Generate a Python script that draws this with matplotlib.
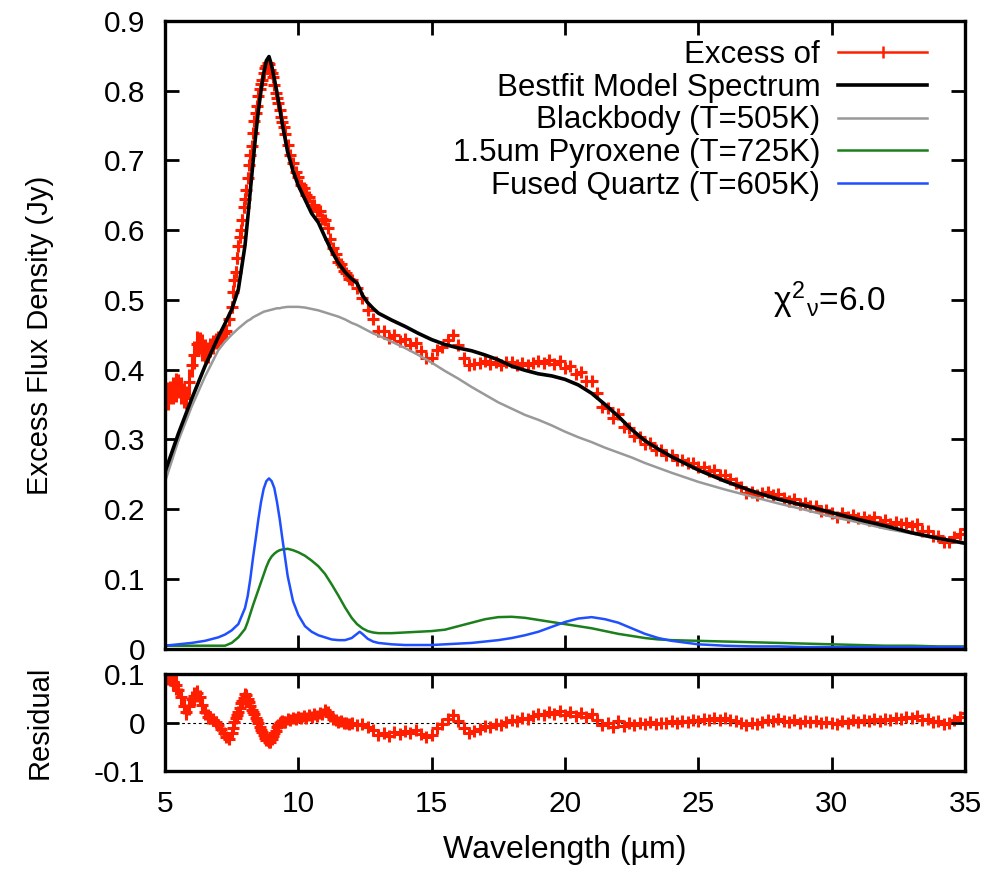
import numpy as np
import matplotlib.pyplot as plt
from matplotlib.lines import Line2D
from matplotlib.ticker import FuncFormatter

plt.rcParams['font.family'] = ['Liberation Sans', 'DejaVu Sans']
plt.rcParams['axes.unicode_minus'] = False
plt.rcParams['mathtext.fontset'] = 'custom'
plt.rcParams['mathtext.rm'] = 'Liberation Sans'
plt.rcParams['mathtext.it'] = 'Liberation Sans'

# observed excess spectrum (Jy) and fit residual, sampled wavelengths in um
wave = [5.0, 5.1, 5.2, 5.3, 5.4, 5.5, 5.6, 5.7, 5.8, 5.9,
        6.0, 6.1, 6.2, 6.3, 6.4, 6.5, 6.6, 6.7, 6.8, 6.9,
        7.0, 7.1, 7.2, 7.3, 7.4, 7.5,
        7.55, 7.6, 7.65, 7.7, 7.75, 7.8, 7.85, 7.9, 7.95, 8.0,
        8.05, 8.1, 8.15, 8.2, 8.25, 8.3, 8.35, 8.4, 8.45, 8.5,
        8.55, 8.6, 8.65, 8.7, 8.75, 8.8, 8.85, 8.9, 8.95, 9.0,
        9.05, 9.1, 9.15, 9.2, 9.25, 9.3, 9.35, 9.4, 9.45, 9.5,
        9.6, 9.7, 9.8, 9.9,
        10.0, 10.1, 10.2, 10.3, 10.4, 10.5, 10.6, 10.7, 10.8, 10.9,
        11.0, 11.1, 11.2, 11.3, 11.4, 11.5, 11.6, 11.7, 11.8, 11.9,
        12.0,
        12.2, 12.4, 12.6, 12.8, 13.0, 13.2, 13.4, 13.6, 13.8, 14.0,
        14.2, 14.4, 14.6, 14.8, 15.0, 15.2, 15.4, 15.6, 15.8, 16.0,
        16.2, 16.4, 16.6, 16.8, 17.0, 17.2, 17.4, 17.6, 17.8, 18.0,
        18.2, 18.4, 18.6, 18.8, 19.0, 19.2, 19.4, 19.6, 19.8, 20.0,
        20.2, 20.4, 20.6, 20.8, 21.0, 21.2, 21.4, 21.6, 21.8, 22.0,
        22.2, 22.4, 22.6, 22.8, 23.0, 23.2, 23.4, 23.6, 23.8, 24.0,
        24.2, 24.4, 24.6, 24.8, 25.0, 25.2, 25.4, 25.6, 25.8, 26.0,
        26.2, 26.4, 26.6, 26.8, 27.0, 27.2, 27.4, 27.6, 27.8, 28.0,
        28.2, 28.4, 28.6, 28.8, 29.0, 29.2, 29.4, 29.6, 29.8, 30.0,
        30.2, 30.4, 30.6, 30.8, 31.0, 31.2, 31.4, 31.6, 31.8, 32.0,
        32.2, 32.4, 32.6, 32.8, 33.0, 33.2, 33.4, 33.6, 33.8, 34.0,
        34.2, 34.4, 34.6, 34.8, 35.0]

excess = [.353, .362, .367, .370, .374, .376, .370, .363, .360, .382,
          .406, .421, .437, .438, .432, .427, .425, .432, .436, .441,
          .443, .447, .452, .455, .472, .490,
          .512, .528, .540, .560, .578, .590, .600, .615, .633, .645,
          .657, .675, .694, .708, .721, .740, .756, .768, .778, .792,
          .803, .810, .816, .826, .833, .836, .840, .838, .830, .826,
          .819, .808, .797, .790, .783, .772, .762, .755, .748, .738,
          .722, .708, .696, .684,
          .676, .665, .661, .650, .647, .636, .636, .628, .627, .616,
          .615, .603, .588, .574, .566, .554, .551, .541, .538, .530,
          .528,
          .517, .503, .486, .472, .455, .455, .445, .449, .441, .444,
          .436, .438, .426, .416, .417, .428, .433, .443, .449, .435,
          .417, .406, .408, .409, .413, .408, .411, .406, .411, .411,
          .407, .410, .406, .410, .412, .409, .414, .408, .412, .402,
          .405, .394, .396, .383, .384, .366, .347, .345, .330, .337,
          .317, .316, .305, .304, .294, .295, .284, .284, .277, .278,
          .271, .271, .266, .266, .260, .261, .255, .256, .249, .249,
          .243, .237, .232, .223, .224, .220, .223, .225, .220, .222,
          .216, .212, .214, .207, .208, .204, .205, .197, .199, .195,
          .189, .194, .189, .192, .187, .189, .184, .188, .182, .184,
          .179, .182, .178, .180, .176, .178, .169, .169, .162, .162,
          .153, .153, .160, .164, .171]

err = [.018, .020, .016, .019, .021, .017, .020, .018, .016, .019,
       .017, .020, .018, .016, .019, .017, .015, .014, .013, .012,
       .012, .011, .010, .011, .010, .009,
       .009, .009, .009, .008, .008, .008, .008, .008, .008, .008,
       .008, .008, .007, .007, .007, .007, .007, .007, .007, .007,
       .007, .007, .006, .006, .006, .006, .006, .006, .006, .006,
       .006, .006, .006, .007, .006, .006, .006, .006, .006, .006,
       .007, .006, .006, .006,
       .006, .006, .007, .006, .006, .007, .006, .006, .007, .006,
       .006, .007, .006, .006, .006, .007, .006, .006, .006, .006,
       .006,
       .006, .005, .006, .006, .005, .006, .006, .005, .006, .005,
       .006, .005, .006, .005, .006, .005, .006, .006, .005, .006,
       .005, .006, .005, .006, .005, .006, .005, .006, .005, .006,
       .006, .005, .006, .005, .006, .006, .005, .006, .006, .005,
       .006, .007, .006, .007, .006, .007, .006, .006, .005, .006,
       .005, .006, .005, .005, .006, .005, .005, .006, .005, .005,
       .005, .004, .005, .005, .004, .005, .005, .004, .005, .005,
       .004, .005, .005, .004, .005, .005, .004, .005, .005, .004,
       .005, .005, .004, .005, .005, .004, .005, .005, .004, .005,
       .005, .004, .005, .005, .004, .005, .005, .004, .005, .005,
       .004, .005, .005, .004, .005, .005, .004, .005, .005, .004,
       .005, .005, .004, .005, .005]

resid = [.100, .098, .092, .084, .077, .068, .052, .035, .022, .034,
         .048, .054, .060, .052, .036, .022, .012, .010, .006, .002,
         -.006, -.014, -.022, -.030, -.034, -.022,
         -.012, .002, .010, .016, .022, .030, .040, .045, .050, .058,
         .056, .048, .042, .034, .026, .022, .018, .010, .006, -.002,
         -.010, -.015, -.020, -.026, -.032, -.036, -.037, -.040, -.040, -.034,
         -.028, -.022, -.017, -.010, -.005, -.002, .002, .004, .002, .002,
         .008, .006, .010, .008,
         .012, .009, .013, .010, .015, .012, .017, .014, .020, .018,
         .025, .021, .014, .008, .006, .001, .003, -.002, .000, -.004,
         -.002,
         -.006, -.004, -.010, -.016, -.026, -.022, -.028, -.020, -.024, -.018,
         -.022, -.016, -.024, -.030, -.026, -.012, -.004, .008, .016, .004,
         -.012, -.022, -.018, -.014, -.008, -.010, -.004, -.006, .002, .006,
         .004, .010, .008, .014, .018, .016, .022, .018, .024, .016,
         .022, .014, .020, .012, .018, .006, -.006, -.002, -.010, .004,
         -.008, -.002, -.006, .000, -.004, .002, -.004, .000, -.002, .003,
         .000, .004, .002, .006, .004, .008, .005, .010, .006, .009,
         .006, .003, .000, -.006, -.002, -.004, .002, .006, .004, .008,
         .004, .002, .005, .000, .003, .001, .004, -.002, .002, .000,
         -.004, .003, .000, .005, .002, .006, .003, .008, .004, .008,
         .005, .010, .008, .012, .010, .014, .006, .008, .002, .004,
         -.004, -.002, .006, .012, .020]

# model curves
mwave = [5.0, 5.5, 6.0, 6.5, 7.0, 7.25, 7.5, 7.75, 8.0,
         8.1, 8.2, 8.3, 8.4, 8.5, 8.6, 8.7, 8.8, 8.9, 9.0, 9.1, 9.2, 9.3, 9.4,
         9.6, 9.8, 10.0, 10.25, 10.5, 10.75, 11.0, 11.25, 11.5, 11.75, 12.0,
         12.2, 12.3, 12.4, 12.6, 12.8, 13.0,
         13.5, 14.0, 14.5, 15.0, 15.5, 16.0, 16.5, 17.0, 17.5, 18.0, 18.5,
         19.0, 19.5, 20.0, 20.5, 21.0, 21.5, 22.0, 22.5, 23.0, 23.5, 24.0,
         25.0, 26.0, 27.0, 28.0, 29.0, 30.0, 31.0, 32.0, 33.0, 34.0, 35.0]

bestfit = [.253, .308, .358, .405, .447, .466, .486, .515, .578,
           .616, .657, .697, .736, .771, .800, .825, .843, .849, .836, .817, .797, .775, .752,
           .712, .685, .664, .644, .624, .611, .590, .570, .553, .540, .530,
           .524, .516, .507, .496, .488, .481,
           .471, .462, .452, .443, .436, .431, .427, .421, .414, .405, .399,
           .394, .391, .386, .378, .366, .350, .333, .314, .298, .286, .275,
           .256, .240, .226, .214, .205, .195, .185, .176, .166, .158, .151]

blackbody = [.239, .298, .347, .390, .428, .440, .450, .459, .467,
             .470, .472, .475, .477, .479, .481, .483, .484, .485, .486, .487, .488, .488, .489,
             .490, .490, .490, .489, .487, .485, .482, .479, .476, .472, .467,
             .464, .462, .460, .456, .452, .449,
             .440, .431, .421, .410, .398, .387, .375, .364, .353, .344, .335,
             .328, .320, .311, .303, .296, .288, .281, .274, .266, .259, .252,
             .239, .228, .218, .208, .199, .189, .181, .172, .165, .157, .150]

pyroxene = [.004, .004, .004, .004, .004, .004, .008, .016, .028,
            .038, .050, .062, .073, .084, .095, .106, .117, .126, .132, .136, .139, .141, .142,
            .143, .141, .138, .133, .126, .118, .107, .092, .076, .059, .044,
            .035, .032, .029, .025, .023, .022,
            .022, .023, .024, .025, .027, .032, .037, .042, .045, .0455, .044,
            .041, .038, .035, .032, .029, .025, .021, .018, .015, .013, .012,
            .011, .010, .009, .008, .007, .006, .005, .004, .004, .003, .003]

quartz = [.004, .006, .008, .011, .016, .020, .026, .035, .058,
          .075, .100, .130, .157, .185, .210, .229, .240, .244, .240, .230, .210, .186, .158,
          .104, .068, .048, .032, .024, .019, .016, .013, .012, .012, .015,
          .021, .024, .021, .014, .010, .008,
          .006, .005, .005, .005, .006, .007, .008, .010, .012, .015, .019,
          .024, .031, .038, .043, .045, .042, .037, .029, .021, .015, .011,
          .006, .004, .003, .003, .002, .002, .002, .002, .002, .002, .002]

RED = '#ff1e00'
W, H = 1003, 869

fig = plt.figure(figsize=(W / 100, H / 100), dpi=100)
ax = fig.add_axes([165 / W, 1 - 648.5 / H, 800 / W, 627.5 / H])
axr = fig.add_axes([165 / W, 1 - 771 / H, 800 / W, 97 / H])

ax.errorbar(wave, excess, yerr=err, fmt='+', color=RED, ms=9, mew=2.2,
            elinewidth=2.2, capsize=0, zorder=1)
ax.plot(mwave, bestfit, color='black', lw=2.6, zorder=3)
ax.plot(mwave, blackbody, color='#999999', lw=1.8, zorder=2)
ax.plot(mwave, pyroxene, color='#1b7f1b', lw=1.8, zorder=2)
ax.plot(mwave, quartz, color='#1f4fff', lw=1.8, zorder=2)

axr.axhline(0, color='black', lw=0.8, ls=(0, (2.5, 2.5)), zorder=0)
axr.errorbar(wave, resid, yerr=err, fmt='+', color=RED, ms=9, mew=2.2,
             elinewidth=2.2, capsize=0, zorder=1)

fmt = FuncFormatter(lambda v, p: '0' if abs(v) < 1e-9 else f'{v:.1f}')
for a in (ax, axr):
    a.set_xlim(5, 35)
    a.set_xticks([5, 10, 15, 20, 25, 30, 35])
    a.tick_params(direction='in', length=10, width=2, top=True, right=True,
                  labelsize=21.5, pad=14)
    for s in a.spines.values():
        s.set_linewidth(2.4)
    a.yaxis.set_major_formatter(fmt)

ax.set_ylim(0, 0.9)
ax.set_yticks(np.arange(0, 0.91, 0.1))
ax.tick_params(labelbottom=False)
axr.set_ylim(-0.1, 0.1)
axr.set_yticks([-0.1, 0, 0.1])
axr.set_xlabel('Wavelength (\u00b5m)', fontsize=23, labelpad=12)

fig.text(40 / W, 1 - 335 / H, 'Excess Flux Density (Jy)', rotation=90,
         ha='center', va='center', fontsize=21)
fig.text(40 / W, 1 - 722 / H, 'Residual', rotation=90,
         ha='center', va='center', fontsize=21)

ax.text(27.8, 0.50, r'$\chi^{2}{}_{\nu}$=6.0', fontsize=24, va='center')

handles = [Line2D([], [], color=RED, lw=1.8, marker='|', ms=9, mew=1.8),
           Line2D([], [], color='black', lw=2.6),
           Line2D([], [], color='#999999', lw=1.8),
           Line2D([], [], color='#1b7f1b', lw=1.8),
           Line2D([], [], color='#1f4fff', lw=1.8)]
labels = ['Excess of', 'Bestfit Model Spectrum', 'Blackbody (T=505K)',
          '1.5um Pyroxene (T=725K)', 'Fused Quartz (T=605K)']
ax.legend(handles, labels, loc='upper right', bbox_to_anchor=(0.953, 0.970),
          frameon=False, markerfirst=False, numpoints=1, fontsize=22.5,
          handlelength=2.85, handletextpad=0.58, labelspacing=0.09,
          borderpad=0, borderaxespad=0)

fig.savefig('out.png', dpi=100)
